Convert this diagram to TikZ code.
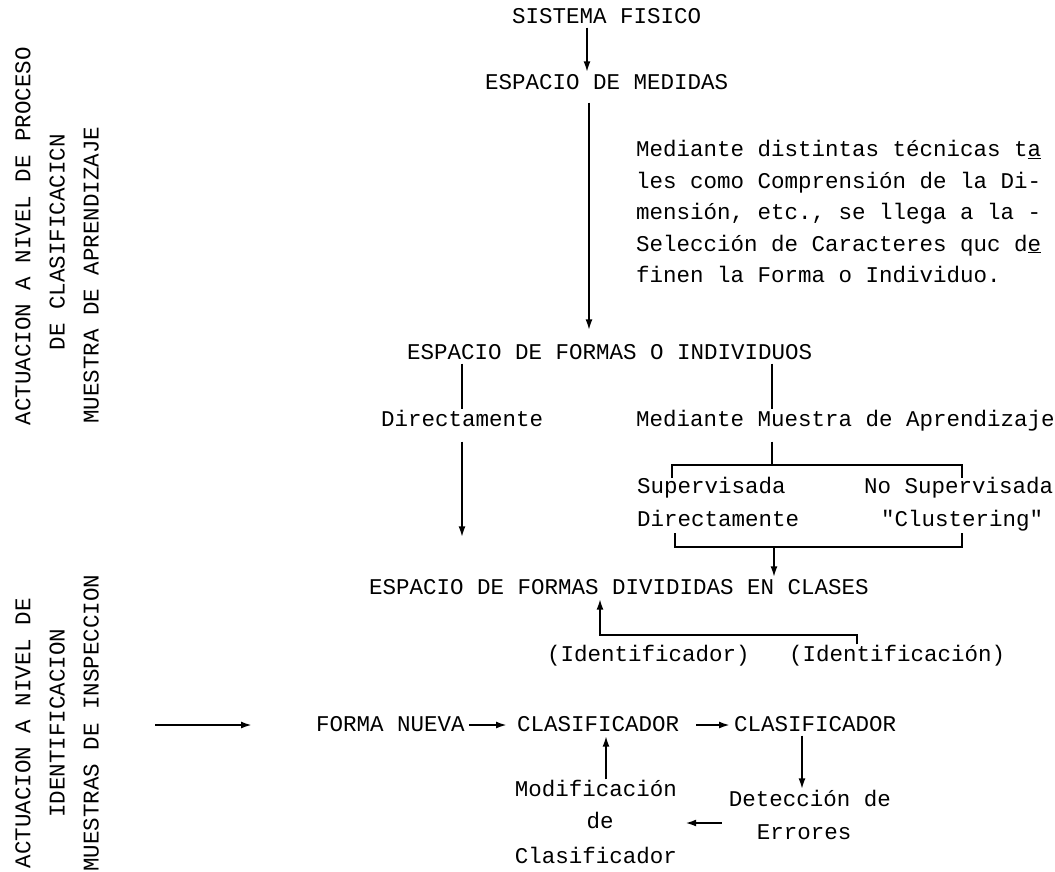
\documentclass[tikz,border=0pt]{standalone}
\usepackage{fontspec}
\newfontfamily\tw{Liberation Mono}
\usetikzlibrary{arrows.meta}

\begin{document}
\begin{tikzpicture}[x=1pt,y=-1pt,
  txt/.style={font=\tw\fontsize{22.5}{27}\selectfont, inner sep=4pt, text height=13pt, text depth=0pt, anchor=west},
  side/.style={txt, anchor=center, rotate=90},
  ln/.style={line width=2pt},
  arr/.style={line width=2pt, -{Latex[length=11pt,width=7pt]}}]
\useasboundingbox (0,0) rectangle (1055,871);

\node[side] (act1) at (24,236) {ACTUACION A NIVEL DE PROCESO};
\node[side] (cla) at (58,242) {DE CLASIFICACICN};
\node[side] (mue1) at (92,275) {MUESTRA DE APRENDIZAJE};
\node[side] (act2) at (24,733) {ACTUACION A NIVEL DE};
\node[side] (ide) at (58,723) {IDENTIFICACION};
\node[side] (mue2) at (92,723) {MUESTRAS DE INSPECCION};

\node[txt] (sis) at (508,17) {SISTEMA FISICO};
\node[txt] (med) at (481,83) {ESPACIO DE MEDIDAS};
\foreach \t [count=\i] in {Mediante distintas técnicas t\underline{a}, les como Comprensión de la Di-, {mensión, etc., se llega a la -}, Selección de Caracteres quc d\underline{e}, finen la Forma o Individuo.}
  \node[txt] (sel\i) at (632,{118.5+31.5*\i}) {\t};
\node[txt] (fo) at (403,353) {ESPACIO DE FORMAS O INDIVIDUOS};
\node[txt] (dirA) at (377,420) {Directamente};
\node[txt] (mma) at (632,420) {Mediante Muestra de Aprendizaje};
\node[txt] (sup) at (633,487) {Supervisada};
\node[txt] (nosup) at (860,487) {No Supervisada};
\node[txt] (dirB) at (633,520) {Directamente};
\node[txt] (clu) at (877,520) {"Clustering"};
\node[txt] (div) at (365,588) {ESPACIO DE FORMAS DIVIDIDAS EN CLASES};
\node[txt] (idr) at (543,655) {(Identificador)};
\node[txt] (idn) at (785,655) {(Identificación)};
\node[txt] (fn) at (312,725) {FORMA NUEVA};
\node[txt] (cl1) at (513,725) {CLASIFICADOR};
\node[txt] (cl2) at (730,725) {CLASIFICADOR};
\node[txt, anchor=center] (mod1) at (596,790) {Modificación};
\node[txt, anchor=center] (mod2) at (600,822) {de};
\node[txt, anchor=center] (mod3) at (596,857) {Clasificador};
\node[txt, anchor=center] (det1) at (810,800) {Detección de};
\node[txt, anchor=center] (det2) at (804,833) {Errores};

\coordinate (xa) at (587,0);
\coordinate (xb) at (589,0);
\coordinate (xd) at (462,0);
\coordinate (xm) at (772,0);
\coordinate (xc) at (802,0);
\coordinate (xe) at (606,0);
\coordinate (bt) at (772,465);
\coordinate (btl) at (672,478);
\coordinate (btr) at (962,478);
\coordinate (bb) at (774,547);
\coordinate (bbl) at (675,533);
\coordinate (bbr) at (962,533);
\coordinate (ik) at (857,635);
\coordinate (il) at (600,635);
\coordinate (la) at (155,725);
\coordinate (lb) at (252,725);

\draw[arr] (sis.south -| xa) -- (med.north -| xa);
\draw[arr, shorten <=9pt, shorten >=12pt] (med.south -| xb) -- (fo.north -| xb);
\draw[ln] (fo.south -| xd) -- (dirA.north -| xd);
\draw[arr, shorten <=11pt, shorten >=40pt] (dirA.south -| xd) -- (div.north -| xd);
\draw[ln] (fo.south -| xm) -- (mma.north -| xm);
\draw[ln, shorten <=11pt] (mma.south -| xm) -- (bt);
\draw[ln] (btl) |- (bt) -| (btr);
\draw[ln] (bbl) |- (bb) -| (bbr);
\draw[arr] (bb) -- (div.north -| bb);
\draw[arr] (idn.north -| ik) -- (ik) -- (il) -- (div.south -| il);
\draw[arr] (la) -- (lb);
\draw[arr, shorten >=6pt] (fn) -- (cl1);
\draw[arr, shorten <=13pt] (cl1) -- (cl2);
\draw[arr] (cl2.south -| xc) -- (det1.north -| xc);
\draw[arr] (mod1.north -| xe) -- (cl1.south -| xe);
\draw[arr, shorten <=31pt, shorten >=4pt] ([yshift=10pt]det2.west) -- ([yshift=10pt]det2.west -| mod1.east);
\end{tikzpicture}
\end{document}
